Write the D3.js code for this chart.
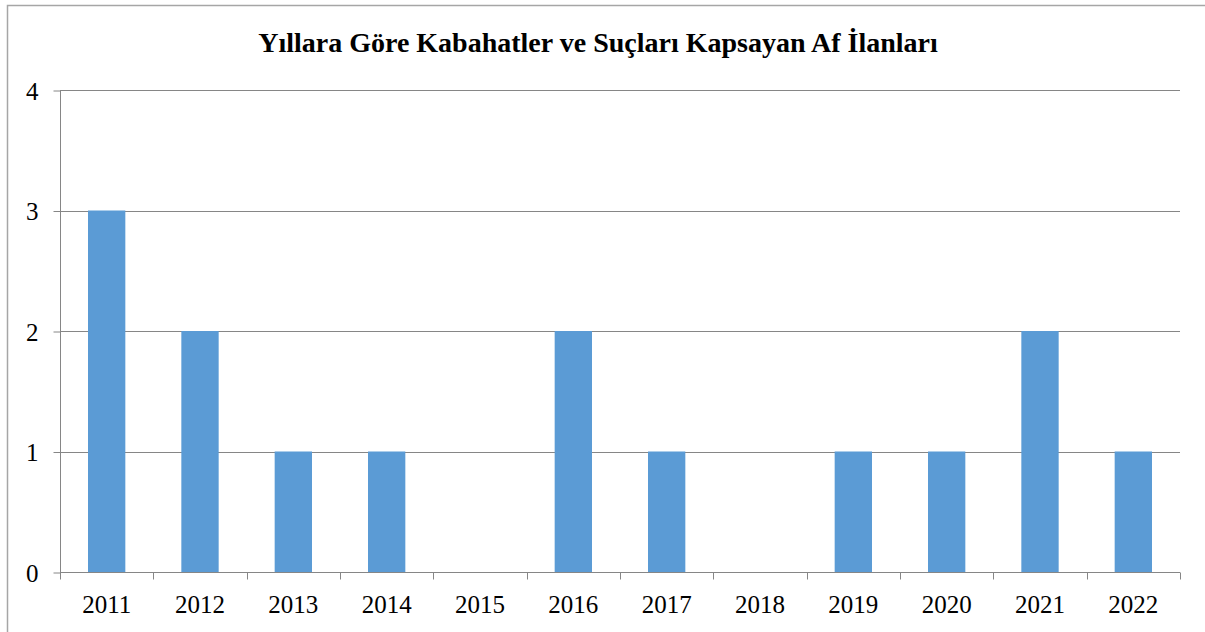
<!DOCTYPE html>
<html>
<head>
<meta charset="utf-8">
<script src="https://cdn.jsdelivr.net/npm/d3@7"></script>
<style>
    body { margin: 0; background: white; }
    svg text { font-family: "Liberation Serif", "Times New Roman", serif; fill: black; }
</style>
</head>
<body>
<div id="chart"></div>
<script>
// Chart data
const years = ['2011', '2012', '2013', '2014', '2015', '2016', '2017', '2018', '2019', '2020', '2021', '2022']
const counts = [3, 2, 1, 1, 0, 2, 1, 0, 1, 1, 2, 1]
const yTicks = [0, 1, 2, 3, 4]
const chartTitle = 'Yıllara Göre Kabahatler ve Suçları Kapsayan Af İlanları'

const width = 1205
const height = 632
const xAxisStart = 60
const xAxisEnd = 1180
const yAxisStart = 572   // value 0
const yAxisEnd = 90      // value 4
const lineColor = '#868686'

const svg = d3.select('#chart').append('svg').attr('width', width).attr('height', height)

// outer chart frame
svg.append('rect').attr('x', 7.5).attr('y', 5.5).attr('width', width).attr('height', height)
    .style('fill', 'none').style('stroke', '#a6a6a6').style('stroke-width', 1.5)

const xScale = d3.scaleBand().domain(years).range([xAxisStart, xAxisEnd]).paddingInner(0.6).paddingOuter(0.3)
const yScale = d3.scaleLinear().domain([0, 4]).range([yAxisStart, yAxisEnd])

// gridlines
svg.append('g').selectAll('line').data(yTicks.filter(d => d > 0)).join('line')
    .attr('x1', xAxisStart).attr('x2', xAxisEnd)
    .attr('y1', d => Math.round(yScale(d)) + 0.5).attr('y2', d => Math.round(yScale(d)) + 0.5)
    .style('stroke', lineColor)

// bars
svg.append('g').selectAll('rect').data(years).join('rect')
    .attr('x', (d, i) => xScale(d))
    .attr('y', (d, i) => yScale(counts[i]))
    .attr('width', xScale.bandwidth())
    .attr('height', (d, i) => yScale(0) - yScale(counts[i]))
    .style('fill', '#5b9bd5')

// y axis
const yAxis = d3.axisLeft(yScale).tickValues(yTicks).tickSize(7).tickPadding(15).tickFormat(d3.format('d'))
const gy = svg.append('g').attr('transform', 'translate(' + (xAxisStart + 0.5) + ', 0.5)').call(yAxis)
gy.select('.domain').remove()
gy.append('line').attr('x1', 0).attr('x2', 0).attr('y1', yAxisEnd - 0.5).attr('y2', yAxisStart).style('stroke', lineColor)
gy.selectAll('.tick line').style('stroke', lineColor)
gy.selectAll('.tick text').attr('font-size', 25).style('font-family', '"Liberation Serif", serif').attr('dy', '0.34em')

// x axis: ticks at band boundaries
const gx = svg.append('g').attr('transform', 'translate(0, ' + (yAxisStart + 0.5) + ')')
gx.append('line').attr('x1', xAxisStart).attr('x2', xAxisEnd).style('stroke', lineColor)
const step = xScale.step()
const boundaries = d3.range(years.length + 1).map(i => xAxisStart + i * step)
gx.selectAll('.xtick').data(boundaries).join('line').attr('class', 'xtick')
    .attr('x1', d => Math.round(d) + 0.5).attr('x2', d => Math.round(d) + 0.5)
    .attr('y1', 0).attr('y2', 7).style('stroke', lineColor)
gx.selectAll('text').data(years).join('text')
    .attr('x', d => xScale(d) + xScale.bandwidth() / 2)
    .attr('y', 40)
    .attr('text-anchor', 'middle')
    .attr('font-size', 25)
    .style('font-family', '"Liberation Serif", serif')
    .text(d => d)

// title
svg.append('text').attr('x', 598).attr('y', 52).attr('text-anchor', 'middle')
    .attr('font-size', 28).attr('font-weight', 'bold')
    .style('font-family', '"Liberation Serif", serif').text(chartTitle)
</script>
</body>
</html>
